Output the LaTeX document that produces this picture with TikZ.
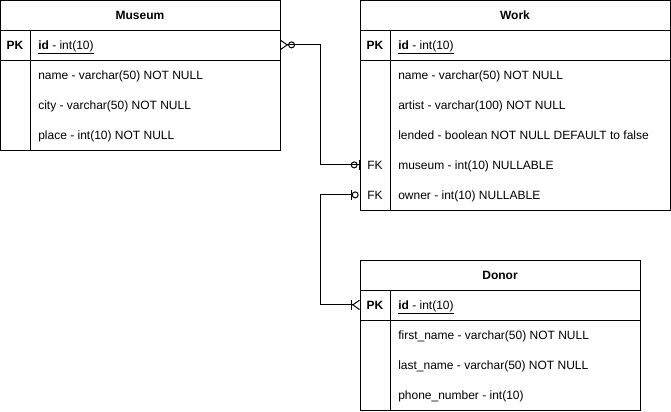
\documentclass[tikz,border=0pt]{standalone}
\usepackage{fontspec}
\setmainfont{Liberation Sans}
\usetikzlibrary{arrows.meta}

\begin{document}
\begin{tikzpicture}[x=0.75pt,y=-0.75pt,
  every node/.style={font=\fontsize{9}{11}\selectfont, inner sep=0pt},
  tbl/.style={draw, line width=0.75pt, outer sep=0pt, anchor=north west},
  sep/.style={line width=0.75pt},
  txt/.style={anchor=base, yshift=-3pt},
  ttl/.style={txt, font=\fontsize{9}{11}\selectfont\bfseries},
  fld/.style={txt, anchor=base west},
  rel/.style={line width=0.75pt}]
  \useasboundingbox (0,0) rectangle (671,411);
  % Museum
  \node[tbl, minimum width=210pt, minimum height=112.5pt] (museum) at (0,0) {};
  \draw[sep] (0,30) -- (280,30) (0,60) -- (280,60) (30,30) -- (30,150);
  \node[ttl] (museumhead) at (140,15) {Museum};
  \node[ttl] (museumpk) at (15,45) {PK};
  \node[fld] (museumid) at (38,45) {\underline{\textbf{id} - int(10)}};
  \node[fld] (museumname) at (38,75) {name - varchar(50) NOT NULL};
  \node[fld] (museumcity) at (38,105) {city - varchar(50) NOT NULL};
  \node[fld] (museumplace) at (38,135) {place - int(10) NOT NULL};
  % Work
  \node[tbl, minimum width=232.5pt, minimum height=157.5pt] (work) at (360,0) {};
  \draw[sep] (360,30) -- (670,30) (360,60) -- (670,60) (390,30) -- (390,210);
  \node[ttl] (workhead) at (515,15) {Work};
  \node[ttl] (workpk) at (375,45) {PK};
  \node[fld] (workid) at (398,45) {\underline{\textbf{id} - int(10)}};
  \node[fld] (workname) at (398,75) {name - varchar(50) NOT NULL};
  \node[fld] (workartist) at (398,105) {artist - varchar(100) NOT NULL};
  \node[fld] (worklended) at (398,135) {lended - boolean NOT NULL DEFAULT to false};
  \node[txt] (workfka) at (375,165) {FK};
  \node[fld] (workmuseum) at (398,165) {museum - int(10) NULLABLE};
  \node[txt] (workfkb) at (375,195) {FK};
  \node[fld] (workowner) at (398,195) {owner - int(10) NULLABLE};
  % Donor
  \node[tbl, minimum width=210pt, minimum height=112.5pt] (donor) at (360,260) {};
  \draw[sep] (360,290) -- (640,290) (360,320) -- (640,320) (390,290) -- (390,410);
  \node[ttl] (donorhead) at (500,275) {Donor};
  \node[ttl] (donorpk) at (375,305) {PK};
  \node[fld] (donorid) at (398,305) {\underline{\textbf{id} - int(10)}};
  \node[fld] (donorfirst) at (398,335) {first\_name - varchar(50) NOT NULL};
  \node[fld] (donorlast) at (398,365) {last\_name - varchar(50) NOT NULL};
  \node[fld] (donorphone) at (398,395) {phone\_number - int(10)};
  % relations
  \draw[rel, {Straight Barb[reversed,length=5pt,width=7pt]Circle[open,length=5.25pt]}-{Circle[open,length=5.25pt,sep=1pt]Bar[width=7.5pt]}]
    (museum.east |- museumpk.center) -- ++(40,0) |- (work.west |- workfka.center);
  \draw[rel, {Circle[open,length=5.25pt,sep=1pt]Bar[width=7.5pt]}-{Bar[width=7.5pt,sep=0pt]Straight Barb[reversed,length=5pt,width=7pt]}]
    (work.west |- workfkb.center) -- ++(-40,0) |- (donor.west |- donorpk.center);
\end{tikzpicture}
\end{document}
